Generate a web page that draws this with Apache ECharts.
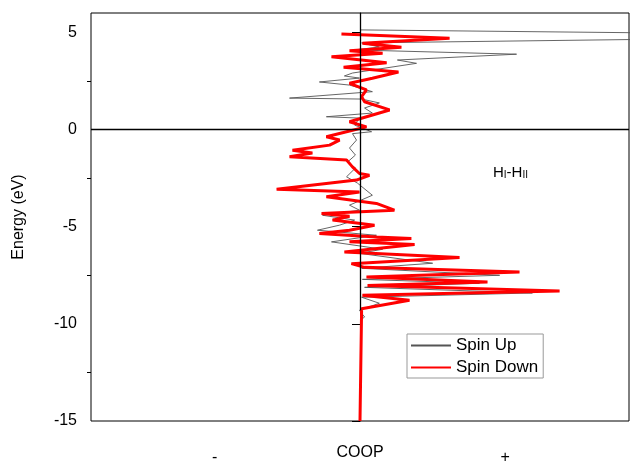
<!DOCTYPE html>
<html>
<head>
<meta charset="utf-8">
<script src="https://cdn.jsdelivr.net/npm/echarts@6/dist/echarts.min.js"></script>
<style>html,body{margin:0;padding:0;background:#fff}#c{width:632px;height:462px}</style>
</head>
<body>
<div id="c"></div>
<script>
// Spin Up (thin dark line): energy (eV) and COOP (arbitrary units, x range -1..1)
var upEnergy = [5.13, 4.95, 4.72, 4.64, 4.46, 4.25, 4.10, 3.88, 3.58, 3.41, 2.91, 2.76, 2.65, 2.45, 2.29, 1.95, 1.62, 1.57, 1.37, 1.11, 0.85, 0.66, 0.59, 0.23, -0.11, -0.21, -0.54, -0.95, -1.31, -1.68, -1.98, -2.43, -2.76, -3.38, -3.89, -4.15, -4.41, -4.66, -4.92, -5.18, -5.44, -5.78, -6.16, -6.37, -6.88, -7.14, -7.50, -7.71, -7.91, -8.12, -8.41, -8.63, -8.94, -9.30, -9.65, -9.82];
var upCoop   = [0.00, 1.26, 1.26, 1.04, 0.006, 0.072, -0.02, 0.582, 0.139, 0.210, -0.028, -0.058, -0.002, -0.151, -0.039, 0.046, -0.262, 0.006, 0.072, 0.017, 0.046, -0.125, -0.002, -0.02, 0.043, -0.028, -0.013, -0.039, -0.017, -0.047, -0.017, -0.050, -0.009, 0.046, -0.039, -0.002, -0.139, -0.020, -0.076, -0.158, 0.061, -0.106, 0.084, -0.002, 0.270, 0.006, 0.519, 0.009, 0.444, 0.017, 0.641, 0.006, 0.072, -0.002, 0.017, 0.0];
// Spin Down (thick red line)
var downEnergy = [4.92, 4.70, 4.44, 4.24, 4.06, 3.93, 3.75, 3.44, 3.21, 2.96, 2.64, 2.38, 2.04, 1.69, 1.43, 1.01, 0.40, 0.14, -0.11, -0.37, -0.54, -0.80, -1.06, -1.21, -1.40, -1.57, -1.92, -2.26, -2.35, -2.60, -3.07, -3.21, -3.46, -3.80, -4.15, -4.32, -4.46, -4.66, -4.92, -5.18, -5.35, -5.53, -5.61, -5.78, -5.92, -6.30, -6.59, -6.90, -7.09, -7.33, -7.59, -7.85, -8.02, -8.31, -8.53, -8.79, -9.22, -9.30, -15.0];
var downCoop   = [-0.069, 0.333, 0.009, 0.154, -0.039, 0.084, -0.106, 0.099, -0.061, 0.143, 0.046, -0.039, 0.024, 0.006, 0.017, 0.110, -0.039, 0.024, -0.050, -0.125, -0.076, -0.113, -0.251, -0.177, -0.262, -0.050, -0.028, -0.002, 0.035, -0.013, -0.310, -0.002, -0.125, 0.061, 0.128, -0.143, -0.039, -0.102, 0.054, -0.039, -0.151, 0.061, 0.191, -0.039, 0.203, -0.058, 0.370, -0.032, 0.017, 0.593, 0.024, 0.474, 0.028, 0.742, 0.009, 0.184, 0.006, 0.0, 0.0];
var seriesNames = ['Spin Up', 'Spin Down'];
var yMajorTicks = [-15, -10, -5, 0, 5];
var yMinorTicks = [-12.5, -7.5, -2.5, 2.5];
var xTickValues = [-0.54, 0.54];
var xTickLabels = ['-', '+'];

function pairs(xs, ys) { return ys.map(function (y, i) { return [xs[i], y]; }); }

var font = 'Liberation Sans, Arial, sans-serif';
var chart = echarts.init(document.getElementById('c'), null, {renderer: 'canvas'});
chart.setOption({
  animation: false,
  backgroundColor: '#fff',
  grid: {left: 91, right: 3, top: 13, bottom: 41, outerBoundsMode: 'none', containLabel: false,
    show: true, borderColor: '#000', borderWidth: 1, backgroundColor: 'transparent'},
  xAxis: {
    type: 'value', min: -1, max: 1,
    name: 'COOP', nameLocation: 'middle', nameGap: 24, nameMoveOverlap: false,
    nameTextStyle: {fontFamily: font, fontSize: 16, color: '#000'},
    axisLine: {show: false}, axisTick: {show: false}, splitLine: {show: false},
    axisLabel: {customValues: xTickValues, margin: 29, fontFamily: font, fontSize: 16, color: '#000',
      formatter: function (v) { return xTickLabels[xTickValues.indexOf(v)] || (v < 0 ? '-' : '+'); }}
  },
  yAxis: [{
    type: 'value', min: -15, max: 6, interval: 5,
    name: 'Energy (eV)', nameLocation: 'middle', nameGap: 64,
    nameTextStyle: {fontFamily: font, fontSize: 16, color: '#000'},
    axisLine: {show: true, lineStyle: {color: '#000', width: 1}},
    axisTick: {show: true, customValues: yMajorTicks, length: 8, lineStyle: {color: '#000', width: 1}},
    axisLabel: {customValues: yMajorTicks, margin: 14, fontFamily: font, fontSize: 16, color: '#000'},
    splitLine: {show: false}
  }, {
    type: 'value', min: -15, max: 6, position: 'left',
    axisLine: {show: false},
    axisTick: {show: true, customValues: yMinorTicks, length: 4, lineStyle: {color: '#000', width: 1}},
    axisLabel: {show: false}, splitLine: {show: false}
  }],
  legend: {
    orient: 'vertical', left: 407, top: 334,
    itemWidth: 40, itemHeight: 14, itemGap: 5,
    padding: [3, 5, 2, 3],
    borderColor: '#999', borderWidth: 1,
    itemStyle: {opacity: 0},
    textStyle: {fontFamily: font, fontSize: 17, color: '#000'},
    data: seriesNames
  },
  graphic: [{
    type: 'text', left: 493, top: 165,
    style: {
      text: '{a|H}{b|I}{a|-H}{b|II}',
      rich: {
        a: {fontFamily: font, fontSize: 15, fill: '#000', verticalAlign: 'bottom'},
        b: {fontFamily: font, fontSize: 10, fill: '#000', verticalAlign: 'bottom'}
      }
    }
  }],
  series: [{
    name: seriesNames[0], type: 'line', yAxisIndex: 0, z: 2,
    data: pairs(upCoop, upEnergy), symbol: 'none', smooth: false,
    lineStyle: {color: '#555', width: 0.9}, itemStyle: {color: '#555'},
    markLine: {
      silent: true, symbol: 'none', label: {show: false},
      lineStyle: {color: '#000', width: 1.3, type: 'solid'},
      data: [[{coord: [0, 6]}, {coord: [0, -9.3]}], {yAxis: 0}]
    }
  }, {
    name: seriesNames[1], type: 'line', yAxisIndex: 0, z: 3,
    data: pairs(downCoop, downEnergy), symbol: 'none', smooth: false,
    lineStyle: {color: '#ff0000', width: 3}, itemStyle: {color: '#ff0000'}
  }]
});
</script>
</body>
</html>
